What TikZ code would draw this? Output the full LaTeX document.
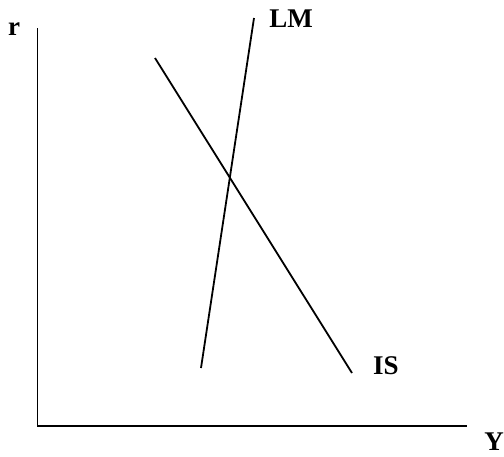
\documentclass[tikz,border=0pt]{standalone}
\usepackage{fontspec}
\setmainfont{Liberation Serif}
\begin{document}
\begin{tikzpicture}[x=1pt,y=-1pt,
  axis/.style={line width=1.6pt,black},
  curve/.style={line width=1.8pt,black},
  lbl/.style={font=\fontsize{27}{30}\selectfont\bfseries,inner sep=0pt}]
\useasboundingbox (0,0) rectangle (504,456);
\coordinate (top) at (37.5,28);
\coordinate (origin) at (37.5,426);
\coordinate (right) at (467,426);
\draw[axis] (top) -- (origin) -- (right);
\coordinate (lma) at (201,368);
\coordinate (lmb) at (254,18);
\coordinate (isa) at (155,58);
\coordinate (isb) at (352,373);
\draw[curve] (lma) -- (lmb);
\draw[curve] (isa) -- (isb);
\node[lbl] (r) at (14,29) {r};
\node[lbl] (y) at (494,442) {Y};
\node[lbl] (lm) at (291,19) {LM};
\node[lbl] (is) at (386,366) {IS};
\end{tikzpicture}
\end{document}
